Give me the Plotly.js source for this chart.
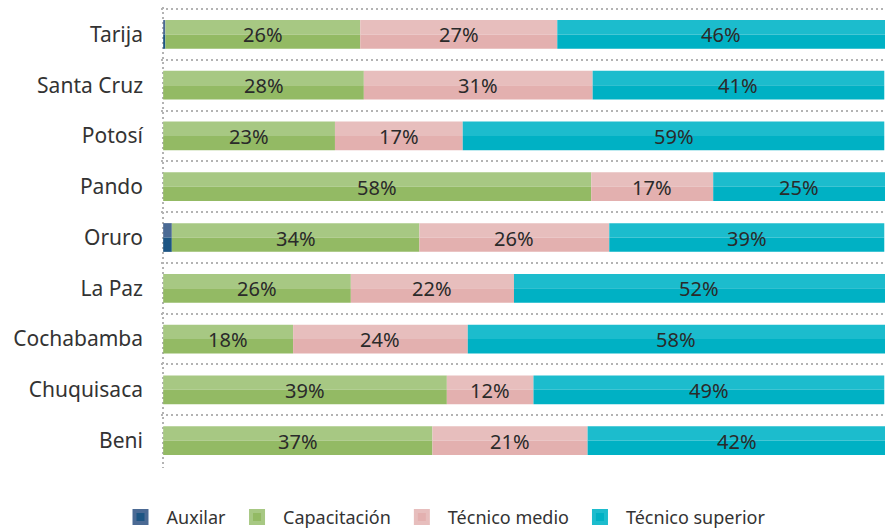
<!DOCTYPE html>
<html>
<head>
<meta charset="utf-8">
<script src="https://cdn.plot.ly/plotly-3.0.1.min.js"></script>
<style>html,body{margin:0;padding:0;background:#fff;}#chart{width:885px;height:529px;}</style>
</head>
<body>
<div id="chart"></div>
<script>
const categories = ['Tarija','Santa Cruz','Potosí','Pando','Oruro','La Paz','Cochabamba','Chuquisaca','Beni'];
const seriesNames = ['Auxilar','Capacitación','Técnico medio','Técnico superior'];
const auxilar = [0.3, 0, 0, 0, 1.2, 0, 0, 0, 0];
const capacitacion = [27.0, 27.8, 23.8, 59.3, 34.3, 26.0, 18.0, 39.3, 37.3];
const tecnicoMedio = [27.3, 31.7, 17.7, 16.9, 26.3, 22.6, 24.2, 12.0, 21.5];
const tecnicoSuperior = [45.4, 40.4, 58.4, 23.8, 38.1, 51.4, 57.8, 48.6, 41.3];
const auxilarLabels = ['', '', '', '', '', '', '', '', ''];
const capacitacionLabels = ['26%','28%','23%','58%','34%','26%','18%','39%','37%'];
const tecnicoMedioLabels = ['27%','31%','17%','17%','26%','22%','24%','12%','21%'];
const tecnicoSuperiorLabels = ['46%','41%','59%','25%','39%','52%','58%','49%','42%'];

const lightColors = ['#4b6a94', '#a7c883', '#e7bebd', '#1cbccd'];
const darkColors  = ['#1d5583', '#93ba64', '#e3b0af', '#00b1c4'];

const values = [auxilar, capacitacion, tecnicoMedio, tecnicoSuperior];
const labels = [auxilarLabels, capacitacionLabels, tecnicoMedioLabels, tecnicoSuperiorLabels];

const FONT = 'Noto Sans, Open Sans, sans-serif';
const traces = [];
const legendTraces = [];
const annotations = [];
let cum = categories.map(() => 0);
const half = 0.283;
values.forEach((vals, s) => {
  const base = cum.slice();
  traces.push({
    type: 'bar', orientation: 'h', y: categories, x: vals, base: base,
    offset: -half, width: half,
    marker: {color: lightColors[s], line: {width: 0}},
    name: seriesNames[s], showlegend: false, hoverinfo: 'skip'
  });
  traces.push({
    type: 'bar', orientation: 'h', y: categories, x: vals, base: base,
    offset: 0, width: half,
    marker: {color: darkColors[s], line: {width: 0}},
    name: seriesNames[s], showlegend: false, hoverinfo: 'skip'
  });
  legendTraces.push({
    type: 'bar', orientation: 'h', y: [categories[0]], x: [null],
    marker: {color: darkColors[s], line: {width: 4, color: lightColors[s]}},
    name: seriesNames[s], showlegend: true, hoverinfo: 'skip'
  });
  vals.forEach((v, i) => {
    if (!labels[s][i]) return;
    annotations.push({
      xref: 'x', yref: 'y', x: base[i] + v / 2, y: i,
      text: labels[s][i], showarrow: false, yshift: -0.5,
      xanchor: 'center', yanchor: 'middle',
      font: {family: FONT, size: 20, color: '#2a2a2a'}
    });
  });
  cum = cum.map((c, i) => c + vals[i]);
});

const gridDash = '2px,3px';
const layout = {
  width: 885, height: 529,
  margin: {l: 161, r: 0, t: 7, b: 61},
  paper_bgcolor: '#fff', plot_bgcolor: '#fff',
  barmode: 'overlay',
  font: {family: FONT, color: '#333'},
  annotations: annotations,
  xaxis: {
    range: [-0.3, 100], tickvals: [0], showticklabels: false,
    showgrid: true, griddash: gridDash, gridcolor: '#b3b3b3', gridwidth: 2,
    zeroline: false, showline: false, ticks: '', fixedrange: true
  },
  yaxis: {
    type: 'category', categoryorder: 'array', categoryarray: categories,
    range: [8.54, -0.54], tickson: 'boundaries', ticks: '',
    showgrid: true, griddash: gridDash, gridcolor: '#b3b3b3', gridwidth: 2,
    zeroline: false, showline: false, ticklabelstandoff: 17,
    tickfont: {family: FONT, size: 21, color: '#333'}, fixedrange: true
  },
  legend: {
    orientation: 'h', xref: 'container', yref: 'container',
    x: 0.5, xanchor: 'center', y: 0.022, yanchor: 'middle',
    font: {family: FONT, size: 18, color: '#333'}, itemwidth: 42,
    traceorder: 'normal', itemclick: false, itemdoubleclick: false
  },
  showlegend: true
};

Plotly.newPlot('chart', traces.concat(legendTraces), layout, {displayModeBar: false, staticPlot: true});
</script>
</body>
</html>
